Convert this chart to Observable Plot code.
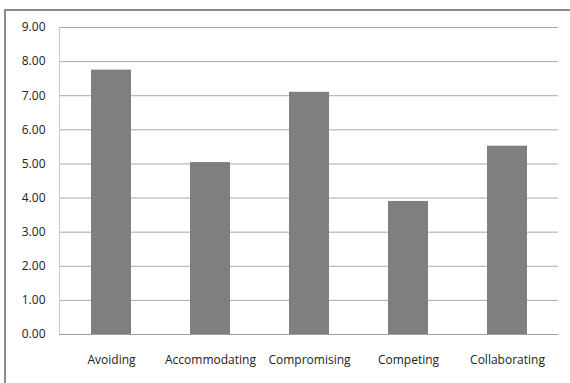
<!DOCTYPE html>
<html>
<head>
<meta charset="utf-8">
<script src="https://cdn.jsdelivr.net/npm/d3@7"></script>
<script src="https://cdn.jsdelivr.net/npm/@observablehq/plot@0.6"></script>
<style>
  html, body { margin: 0; padding: 0; background: #fff; }
  #wrap { position: relative; width: 570px; height: 383px; overflow: hidden; }
  #frame { position: absolute; left: 4px; top: 9px; width: 600px; height: 400px;
           border-left: 2px solid #8a8a8a; border-top: 2px solid #8a8a8a; box-sizing: border-box; }
  #chart { position: absolute; left: 0; top: 0; }
</style>
</head>
<body>
<div id="wrap"><div id="frame"></div><div id="chart"></div></div>
<script>
const categories = ["Avoiding", "Accommodating", "Compromising", "Competing", "Collaborating"];
const values = [7.75, 5.04, 7.10, 3.90, 5.52];
const yTicks = [0, 1, 2, 3, 4, 5, 6, 7, 8, 9];

const data = categories.map((c, i) => ({category: c, value: values[i]}));

const chart = Plot.plot({
  width: 570,
  height: 383,
  marginLeft: 59,
  marginRight: 12,
  marginTop: 27,
  marginBottom: 49,
  style: {fontFamily: "'Open Sans', sans-serif", fontSize: "12px", color: "#222", background: "transparent"},
  x: {domain: categories, paddingInner: 0.6, paddingOuter: 0.3, label: null, tickSize: 0, tickPadding: 21},
  y: {domain: [0, 9], ticks: yTicks, tickFormat: d3.format(".2f"), label: null, tickSize: 0, tickPadding: 14},
  marks: [
    Plot.gridY(yTicks, {stroke: "#a8a8a8", strokeOpacity: 1}),
    Plot.frame({anchor: "left", stroke: "#c8c8c8"}),
    Plot.barY(data, {x: "category", y: "value", fill: "#7f7f7f"}),
    Plot.ruleY([0], {stroke: "#a0a0a0"})
  ]
});
document.getElementById("chart").appendChild(chart);
</script>
</body>
</html>
